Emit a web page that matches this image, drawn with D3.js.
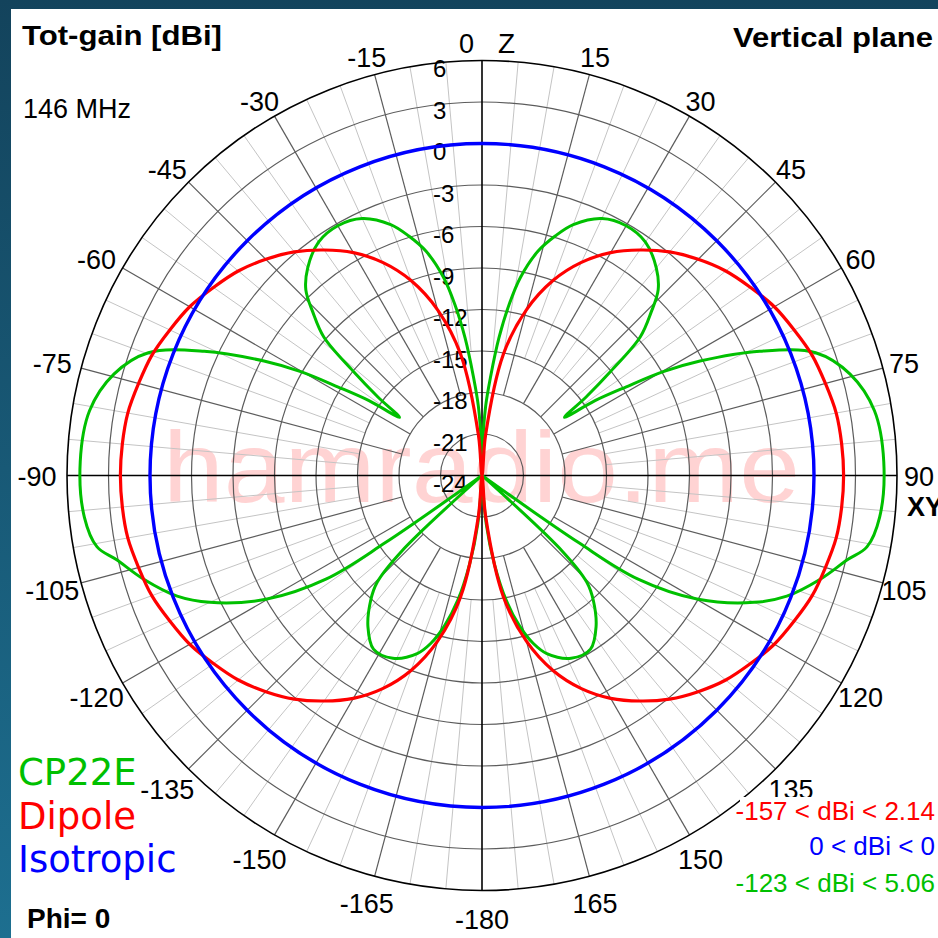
<!DOCTYPE html>
<html>
<head>
<meta charset="utf-8">
<script src="https://cdn.jsdelivr.net/npm/d3@7"></script>
<style>
  html, body { margin: 0; padding: 0; background: #14465f; }
  svg { display: block; }
</style>
</head>
<body>
<div id="radial-chart"></div>
<script>
// Angle labels, degrees from Z (top), clockwise
const angleTicks = [0, 15, 30, 45, 60, 75, 90, 105, 120, 135, 150, 165,
    -180, -165, -150, -135, -120, -105, -90, -75, -60, -45, -30, -15];
// Gain rings in dBi
const gainTicks = [6, 3, 0, -3, -6, -9, -12, -15, -18, -21, -24];

// Patterns for the right half (0..180 deg),
// the left half is the mirror image (Phi = 0 cut)
const dipoleAngles = [0, 5, 10, 15, 20, 25, 30, 35, 40, 45, 50, 55, 60, 65, 70, 75, 80, 85, 90,
    95, 100, 105, 110, 115, 120, 125, 130, 135, 140, 145, 150, 155, 160, 165, 170, 175, 180];
const dipoleGain = [-40, -21.1, -15.1, -11.6, -9.0, -7.0, -5.4, -4.1, -2.9, -1.9, -1.0, -0.3, 0.4, 0.9, 1.4, 1.7, 2.0, 2.1, 2.14,
    2.1, 2.0, 1.7, 1.4, 0.9, 0.4, -0.3, -1.0, -1.9, -2.9, -4.1, -5.4, -7.0, -9.0, -11.6, -15.1, -21.1, -40];

const cp22eAngles = [0, 1, 3, 5, 7, 9, 11, 14, 17, 20, 25, 30, 35, 40, 43.5, 46, 48.8, 51, 53, 54.8,
    56.5, 58.4, 60.2, 62.3, 65.9, 69.8, 74.6, 80.6, 88, 96, 100.5, 103, 107, 111.6, 115, 119.8,
    123.6, 124.8, 126, 129, 132, 133.3, 135.5, 138.3, 143, 148, 154, 160, 163, 166, 169, 172, 175, 178, 180];
const cp22eGain = [-40, -22, -19, -16.8, -14, -11.5, -9.4, -7.3, -5.9, -4.7, -3.5, -3.15, -3.4, -4.4, -5.5, -7.0, -8.8, -12, -14.6, -16.7,
    -14.2, -11.8, -8.9, -6.2, -2.0, 1.7, 3.6, 4.75, 5.06, 4.9, 4.3, 3.1, 1.6, -0.3, -2.3, -6.0,
    -10.5, -15.5, -26, -40, -26, -16, -13.2, -11.9, -10.3, -9.2, -9.3, -10.3, -11.3, -12.8, -14.8, -17.5, -20.5, -26, -40];

const isotropicGain = 0;

const seriesNames = ["CP22E", "Dipole", "Isotropic"];
const seriesColors = ["#00c000", "#ff0000", "#0000ff"];
const rangeNotes = ["-157 < dBi < 2.14", "0 < dBi < 0", "-123 < dBi < 5.06"];
const rangeColors = ["#ff0000", "#0000ff", "#00c000"];

// Dimensions
const width = 938,
    height = 938;
const centerX = 482,
    centerY = 475.5,
    outerRadius = 415;

const fontFamily = "'Liberation Sans', Arial, sans-serif";

const svg = d3.select("#radial-chart")
    .append("svg")
    .attr("width", width)
    .attr("height", height);

// window frame
const grad = svg.append("defs").append("linearGradient")
    .attr("id", "frameGrad")
    .attr("x1", 0).attr("y1", 0).attr("x2", 0).attr("y2", 1);
grad.append("stop").attr("offset", "0%").attr("stop-color", "#13435c");
grad.append("stop").attr("offset", "100%").attr("stop-color", "#1d6f90");

svg.append("rect")
    .attr("width", width)
    .attr("height", height)
    .attr("fill", "url(#frameGrad)");

svg.append("rect")
    .attr("x", 11)
    .attr("y", 9)
    .attr("width", width - 11)
    .attr("height", height - 9)
    .attr("fill", "#fff");

// watermark
svg.append("text")
    .attr("x", 163)
    .attr("y", 502)
    .attr("font-family", fontFamily)
    .attr("font-size", 100)
    .attr("fill", "#ffd3d3")
    .attr("textLength", 637)
    .attr("lengthAdjust", "spacingAndGlyphs")
    .text("hamradio.me");

const g = svg.append("g")
    .attr("transform", `translate(${centerX}, ${centerY})`);

// polar (r, degrees clockwise from top) -> x, y
function polarToCartesian(r, angleDeg) {
    const a = angleDeg * Math.PI / 180;
    return { x: r * Math.sin(a), y: -r * Math.cos(a) };
}

const rScale = d3.scaleLinear()
    .domain([-24, 6])
    .range([0, outerRadius])
    .clamp(true);

// minor spokes every 5 deg
d3.range(0, 360, 5).filter(a => a % 15 !== 0).forEach(a => {
    const p1 = polarToCartesian(rScale(-15), a);
    const p2 = polarToCartesian(outerRadius, a);
    g.append("line")
        .attr("x1", p1.x).attr("y1", p1.y)
        .attr("x2", p2.x).attr("y2", p2.y)
        .attr("stroke", "#c4c4c4")
        .attr("stroke-width", 1);
});

// major spokes every 15 deg
d3.range(0, 360, 15).filter(a => a % 90 !== 0).forEach(a => {
    const p1 = polarToCartesian(rScale(-18), a);
    const p2 = polarToCartesian(outerRadius, a);
    g.append("line")
        .attr("x1", p1.x).attr("y1", p1.y)
        .attr("x2", p2.x).attr("y2", p2.y)
        .attr("stroke", "#5c5c5c")
        .attr("stroke-width", 1.2);
});

// gain rings
gainTicks.filter(v => v > -24).forEach(v => {
    g.append("circle")
        .attr("r", rScale(v))
        .attr("fill", "none")
        .attr("stroke", v === 6 ? "#000" : "#5c5c5c")
        .attr("stroke-width", v === 6 ? 1.6 : 1.2);
});

// axes
[0, 90].forEach(a => {
    const p = polarToCartesian(outerRadius, a);
    g.append("line")
        .attr("x1", -p.x).attr("y1", -p.y)
        .attr("x2", p.x).attr("y2", p.y)
        .attr("stroke", "#000")
        .attr("stroke-width", 1.6);
});

// angle labels
angleTicks.forEach(a => {
    const rad = a * Math.PI / 180;
    const s = Math.sin(rad), c = Math.cos(rad);
    const p = polarToCartesian(outerRadius, a);
    let x = p.x + s * (a < 0 ? 30 : 22);
    const y = p.y - c * (c > 0 ? 18 : 28) + 10;
    let anchor = "middle";
    if (a === 0) { x = p.x - 8; anchor = "end"; }
    g.append("text")
        .attr("x", x)
        .attr("y", y)
        .attr("text-anchor", anchor)
        .attr("font-family", fontFamily)
        .attr("font-size", 27)
        .attr("fill", "#000")
        .text(a);
});

// axis names
g.append("text")
    .attr("x", 16)
    .attr("y", -outerRadius - 8)
    .attr("font-family", fontFamily)
    .attr("font-size", 28)
    .attr("fill", "#000")
    .text("Z");

g.append("text")
    .attr("x", outerRadius + 10)
    .attr("y", 40)
    .attr("font-family", fontFamily)
    .attr("font-size", 27)
    .attr("font-weight", "bold")
    .attr("fill", "#000")
    .text("XY");

// gain labels along the vertical axis
gainTicks.forEach(v => {
    g.append("text")
        .attr("x", -49)
        .attr("y", -rScale(v) + 16.5)
        .attr("font-family", fontFamily)
        .attr("font-size", 24)
        .attr("fill", "#000")
        .text(v);
});

// pattern curves
function mirrored(angles, gains) {
    const pts = angles.map((a, i) => ({ a: a, v: gains[i] }));
    for (let i = angles.length - 2; i >= 1; i--) {
        pts.push({ a: -angles[i], v: gains[i] });
    }
    return pts;
}

const radialLine = d3.lineRadial()
    .angle(d => d.a * Math.PI / 180)
    .radius(d => rScale(d.v))
    .curve(d3.curveCatmullRomClosed.alpha(0.5));

g.append("path")
    .datum(mirrored(cp22eAngles, cp22eGain))
    .attr("fill", "none")
    .attr("stroke", seriesColors[0])
    .attr("stroke-width", 3)
    .attr("stroke-linejoin", "round")
    .attr("d", radialLine);

g.append("path")
    .datum(mirrored(dipoleAngles, dipoleGain))
    .attr("fill", "none")
    .attr("stroke", seriesColors[1])
    .attr("stroke-width", 3.2)
    .attr("stroke-linejoin", "round")
    .attr("d", radialLine);

g.append("circle")
    .attr("r", rScale(isotropicGain))
    .attr("fill", "none")
    .attr("stroke", seriesColors[2])
    .attr("stroke-width", 3.4);

// header texts
svg.append("text")
    .attr("x", 22)
    .attr("y", 45)
    .attr("font-family", fontFamily)
    .attr("font-size", 28)
    .attr("font-weight", "bold")
    .attr("textLength", 200)
    .attr("lengthAdjust", "spacingAndGlyphs")
    .text("Tot-gain [dBi]");

svg.append("text")
    .attr("x", 733)
    .attr("y", 47)
    .attr("font-family", fontFamily)
    .attr("font-size", 28)
    .attr("font-weight", "bold")
    .attr("textLength", 200)
    .attr("lengthAdjust", "spacingAndGlyphs")
    .text("Vertical plane");

svg.append("text")
    .attr("x", 23)
    .attr("y", 118)
    .attr("font-family", fontFamily)
    .attr("font-size", 27)
    .text("146 MHz");

svg.append("text")
    .attr("x", 27)
    .attr("y", 928)
    .attr("font-family", fontFamily)
    .attr("font-size", 28)
    .attr("font-weight", "bold")
    .text("Phi= 0");

// legend
seriesNames.forEach((name, i) => {
    svg.append("text")
        .attr("x", 18)
        .attr("y", 785 + i * 43.5)
        .attr("font-family", "'DejaVu Sans', sans-serif")
        .attr("font-size", 37)
        .attr("fill", seriesColors[i])
        .text(name);
});

// range notes, on a white box
svg.append("rect")
    .attr("x", 740)
    .attr("y", 797)
    .attr("width", width - 740)
    .attr("height", 100)
    .attr("fill", "#fff");

rangeNotes.forEach((t, i) => {
    svg.append("text")
        .attr("x", 935)
        .attr("y", [820, 855, 892][i])
        .attr("text-anchor", "end")
        .attr("font-family", fontFamily)
        .attr("font-size", 26)
        .attr("fill", rangeColors[i])
        .text(t);
});
</script>
</body>
</html>
